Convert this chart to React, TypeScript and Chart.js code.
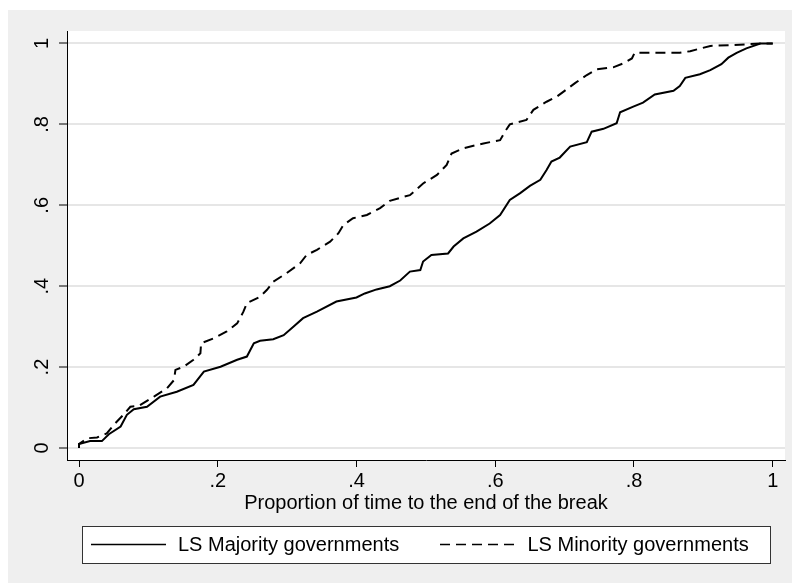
import React, { useEffect, useRef } from 'react';
import { Chart, registerables } from 'chart.js';

Chart.register(...registerables);

const majorityX = [0, 0, 0.016, 0.033, 0.043, 0.06, 0.069, 0.079, 0.098, 0.117, 0.141, 0.165, 0.18, 0.204, 0.228, 0.242, 0.252, 0.261, 0.28, 0.295, 0.309, 0.323, 0.343, 0.371, 0.4, 0.412, 0.429, 0.448, 0.463, 0.477, 0.492, 0.496, 0.508, 0.532, 0.54, 0.554, 0.573, 0.592, 0.607, 0.621, 0.636, 0.65, 0.665, 0.674, 0.681, 0.693, 0.708, 0.732, 0.739, 0.756, 0.775, 0.78, 0.799, 0.813, 0.83, 0.857, 0.866, 0.874, 0.895, 0.91, 0.926, 0.936, 0.948, 0.962, 0.982, 1.0];
const majorityY = [0, 0.01, 0.017, 0.017, 0.034, 0.053, 0.082, 0.096, 0.102, 0.127, 0.139, 0.156, 0.189, 0.201, 0.218, 0.226, 0.259, 0.265, 0.269, 0.279, 0.3, 0.321, 0.337, 0.362, 0.372, 0.382, 0.392, 0.4, 0.414, 0.436, 0.44, 0.461, 0.477, 0.481, 0.498, 0.518, 0.535, 0.555, 0.576, 0.613, 0.63, 0.648, 0.663, 0.687, 0.708, 0.718, 0.745, 0.756, 0.782, 0.789, 0.803, 0.83, 0.844, 0.854, 0.874, 0.883, 0.895, 0.915, 0.924, 0.934, 0.949, 0.965, 0.977, 0.988, 1.0, 1.0];

const minorityX = [0, 0, 0.012, 0.026, 0.04, 0.05, 0.064, 0.074, 0.086, 0.108, 0.127, 0.137, 0.139, 0.151, 0.165, 0.175, 0.176, 0.194, 0.213, 0.228, 0.237, 0.242, 0.261, 0.271, 0.28, 0.299, 0.319, 0.328, 0.343, 0.362, 0.374, 0.381, 0.395, 0.415, 0.434, 0.448, 0.468, 0.477, 0.496, 0.516, 0.53, 0.537, 0.554, 0.583, 0.607, 0.614, 0.621, 0.645, 0.655, 0.674, 0.689, 0.7, 0.715, 0.732, 0.746, 0.77, 0.785, 0.797, 0.801, 0.866, 0.881, 0.91, 0.938, 0.986, 1.0];
const minorityY = [0, 0.01, 0.024, 0.026, 0.036, 0.057, 0.082, 0.102, 0.104, 0.127, 0.148, 0.168, 0.193, 0.201, 0.218, 0.234, 0.259, 0.271, 0.288, 0.308, 0.337, 0.358, 0.374, 0.391, 0.411, 0.432, 0.457, 0.477, 0.49, 0.51, 0.531, 0.551, 0.568, 0.576, 0.593, 0.611, 0.621, 0.625, 0.654, 0.675, 0.7, 0.728, 0.741, 0.753, 0.761, 0.782, 0.8, 0.811, 0.836, 0.856, 0.869, 0.883, 0.902, 0.922, 0.936, 0.941, 0.951, 0.963, 0.977, 0.977, 0.981, 0.994, 0.996, 1.0, 1.0];

const xTicks = [0, 0.2, 0.4, 0.6, 0.8, 1];
const xTickLabels = ['0', '.2', '.4', '.6', '.8', '1'];
const yTicks = [0, 0.2, 0.4, 0.6, 0.8, 1];
const yTickLabels = ['0', '.2', '.4', '.6', '.8', '1'];
const xTitle = 'Proportion of time to the end of the break';
const seriesNames = ['LS Majority governments', 'LS Minority governments'];

const FONT = "'Liberation Sans', Arial, Helvetica, sans-serif";
const DASH = [10, 6];

export default function App() {
  const ref = useRef<HTMLCanvasElement>(null);

  useEffect(() => {
    const canvas = ref.current;
    if (!canvas) return;

    const bgPlugin = {
      id: 'bg',
      beforeDraw(chart: any) {
        const { ctx, chartArea: a } = chart;
        ctx.save();
        ctx.fillStyle = '#efefef';
        ctx.fillRect(0, 0, chart.width, chart.height);
        ctx.fillStyle = '#ffffff';
        ctx.fillRect(a.left, a.top, a.right - a.left, a.bottom - a.top);
        ctx.restore();
      },
    };

    const legendPlugin = {
      id: 'boxLegend',
      afterDraw(chart: any) {
        const ctx = chart.ctx;
        ctx.save();
        ctx.fillStyle = '#ffffff';
        ctx.fillRect(74, 516, 688, 37);
        ctx.strokeStyle = '#333333';
        ctx.lineWidth = 1;
        ctx.strokeRect(74.5, 516.5, 688, 37);
        ctx.strokeStyle = '#000';
        ctx.lineWidth = 1.5;
        ctx.beginPath();
        ctx.moveTo(83, 534.5);
        ctx.lineTo(158, 534.5);
        ctx.stroke();
        ctx.setLineDash(DASH);
        ctx.beginPath();
        ctx.moveTo(432, 534.5);
        ctx.lineTo(507, 534.5);
        ctx.stroke();
        ctx.setLineDash([]);
        ctx.fillStyle = '#000';
        ctx.font = `20px ${FONT}`;
        ctx.textBaseline = 'middle';
        ctx.textAlign = 'left';
        ctx.fillText(seriesNames[0], 170, 535.5);
        ctx.fillText(seriesNames[1], 519.5, 535.5);
        ctx.restore();
      },
    };

    const chart = new Chart(canvas, {
      type: 'line',
      data: {
        datasets: [
          {
            label: seriesNames[0],
            data: majorityX.map((x, i) => ({ x, y: majorityY[i] })),
            borderColor: '#000',
            borderWidth: 2,
            pointRadius: 0,
            tension: 0,
            fill: false,
          },
          {
            label: seriesNames[1],
            data: minorityX.map((x, i) => ({ x, y: minorityY[i] })),
            borderColor: '#000',
            borderWidth: 2,
            borderDash: DASH,
            pointRadius: 0,
            tension: 0,
            fill: false,
          },
        ],
      },
      options: {
        animation: false,
        responsive: false,
        devicePixelRatio: 1,
        layout: { padding: { top: 21, right: 7, left: 0, bottom: 68 } },
        plugins: { legend: { display: false }, tooltip: { enabled: false } },
        scales: {
          x: {
            type: 'linear',
            min: -0.0173,
            max: 1.0177,
            afterBuildTicks: (s: any) => {
              s.ticks = xTicks.map((v) => ({ value: v }));
            },
            afterFit: (s: any) => {
              s.height = 55;
            },
            grid: { drawOnChartArea: false, drawTicks: true, tickLength: 7, tickColor: '#000', tickWidth: 1 },
            border: { display: true, color: '#000', width: 1 },
            ticks: {
              autoSkip: false,
              maxRotation: 0,
              minRotation: 0,
              padding: 2,
              color: '#000',
              font: { family: FONT, size: 20 },
              callback: (_v: any, i: number) => xTickLabels[i],
            },
            title: { display: true, text: xTitle, color: '#000', font: { family: FONT, size: 20 }, padding: 0 },
          },
          y: {
            type: 'linear',
            min: -0.0297,
            max: 1.0309,
            afterBuildTicks: (s: any) => {
              s.ticks = yTicks.map((v) => ({ value: v }));
            },
            afterFit: (s: any) => {
              s.width = 59;
            },
            grid: { color: '#e6e6e6', lineWidth: 2, drawTicks: true, tickLength: 8, tickColor: '#000', tickWidth: 1 },
            border: { display: true, color: '#000', width: 1 },
            ticks: {
              autoSkip: false,
              minRotation: 90,
              maxRotation: 90,
              crossAlign: 'center',
              padding: 7.7,
              color: '#000',
              font: { family: FONT, size: 20 },
              callback: (_v: any, i: number) => yTickLabels[i],
            },
          },
        },
      } as any,
      plugins: [bgPlugin, legendPlugin],
    });

    return () => chart.destroy();
  }, []);

  return (
    <canvas
      ref={ref}
      width={784}
      height={573}
      style={{ position: 'fixed', left: 8, top: 10, width: 784, height: 573 }}
    />
  );
}
